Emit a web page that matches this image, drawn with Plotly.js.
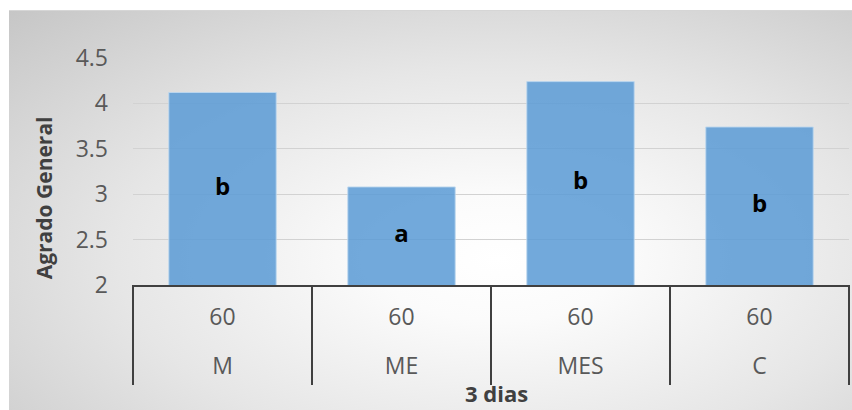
<!DOCTYPE html>
<html>
<head>
<meta charset="utf-8">
<script src="https://cdn.plot.ly/plotly-3.0.1.min.js"></script>
<style>
  html, body { margin: 0; padding: 0; background: #ffffff; }
  #frame {
    position: absolute; left: 9px; top: 10px; width: 843px; height: 400px;
    background: radial-gradient(ellipse farthest-corner at 58% 62%, #ffffff 0%, #fbfbfb 18%, #e6e6e6 55%, #c6c6c6 100%);
    border-top: 1px solid #d6d6d6;
    box-sizing: border-box;
  }
  #chart { position: absolute; left: 0; top: 0; width: 852px; height: 410px; }
</style>
</head>
<body>
<div id="frame"></div>
<div id="chart"></div>
<script>
// Treatments and storage time (days) shown under each bar
var treatments = ['M', 'ME', 'MES', 'C'];
var days = ['60', '60', '60', '60'];
// Mean overall liking score per treatment
var scores = [4.12, 3.08, 4.24, 3.74];
// Significance letters
var letters = ['b', 'a', 'b', 'b'];

var yRange = [2, 4.5];
var yTicks = [2, 2.5, 3, 3.5, 4, 4.5];
var yTickText = ['2', '2.5', '3', '3.5', '4', '4.5'];

var FONT = 'Open Sans, sans-serif';

function big(s) { return '<span style="font-size:23px">' + s + '</span>'; }

// two-row category labels: days on top, treatment below
var xTickText = treatments.map(function (t, i) {
  return big(days[i]) + '<br><br>' + big(t);
});

var bars = {
  type: 'bar',
  x: treatments,
  y: scores,
  marker: {
    color: 'rgba(91,155,213,0.86)',
    line: { color: 'rgba(189,215,238,0.9)', width: 1 }
  },
  hoverinfo: 'skip'
};

// Letters centred on the visible part of each bar
var letterTrace = {
  type: 'scatter',
  mode: 'text',
  x: treatments,
  y: scores.map(function (v) { return (yRange[0] + v) / 2; }),
  text: letters,
  textposition: 'middle center',
  textfont: { family: FONT, size: 24, color: '#000000', weight: 'bold' },
  hoverinfo: 'skip'
};

// vertical separators between the category cells of the axis table
var dividers = [];
for (var i = 0; i <= treatments.length; i++) {
  dividers.push({
    type: 'line', xref: 'paper', yref: 'paper',
    x0: i / treatments.length, x1: i / treatments.length,
    y0: 0, y1: -0.44,
    line: { color: '#404040', width: 2 }
  });
}

var layout = {
  width: 852,
  height: 410,
  margin: { l: 133, r: 3, t: 58, b: 125 },
  paper_bgcolor: 'rgba(0,0,0,0)',
  plot_bgcolor: 'rgba(0,0,0,0)',
  bargap: 0.4,
  showlegend: false,
  font: { family: FONT, size: 23, color: '#595959' },
  xaxis: {
    type: 'category',
    tickvals: treatments,
    ticktext: xTickText,
    showline: true,
    linecolor: '#404040',
    linewidth: 2,
    ticks: '',
    ticklabelstandoff: 15,
    tickfont: { family: FONT, size: 19, color: '#595959' },
    showgrid: false,
    zeroline: false
  },
  yaxis: {
    range: yRange,
    tickvals: yTicks,
    ticktext: yTickText,
    showgrid: true,
    gridcolor: '#d2d2d2',
    gridwidth: 1,
    zeroline: false,
    showline: false,
    ticks: '',
    ticklabelstandoff: 24,
    tickfont: { family: FONT, size: 23, color: '#595959' }
  },
  shapes: dividers,
  annotations: [
    {
      text: 'Agrado General',
      xref: 'paper', yref: 'paper',
      x: -0.124, y: 0.383,
      xanchor: 'center', yanchor: 'middle',
      textangle: -90,
      showarrow: false,
      font: { family: FONT, size: 21, color: '#404040', weight: 'bold' }
    },
    {
      text: '3 dias',
      xref: 'paper', yref: 'paper',
      x: 0.507, y: -0.476,
      xanchor: 'center', yanchor: 'middle',
      showarrow: false,
      font: { family: FONT, size: 22, color: '#404040', weight: 'bold' }
    }
  ]
};

Plotly.newPlot('chart', [bars, letterTrace], layout, { displayModeBar: false, staticPlot: true });
</script>
</body>
</html>
